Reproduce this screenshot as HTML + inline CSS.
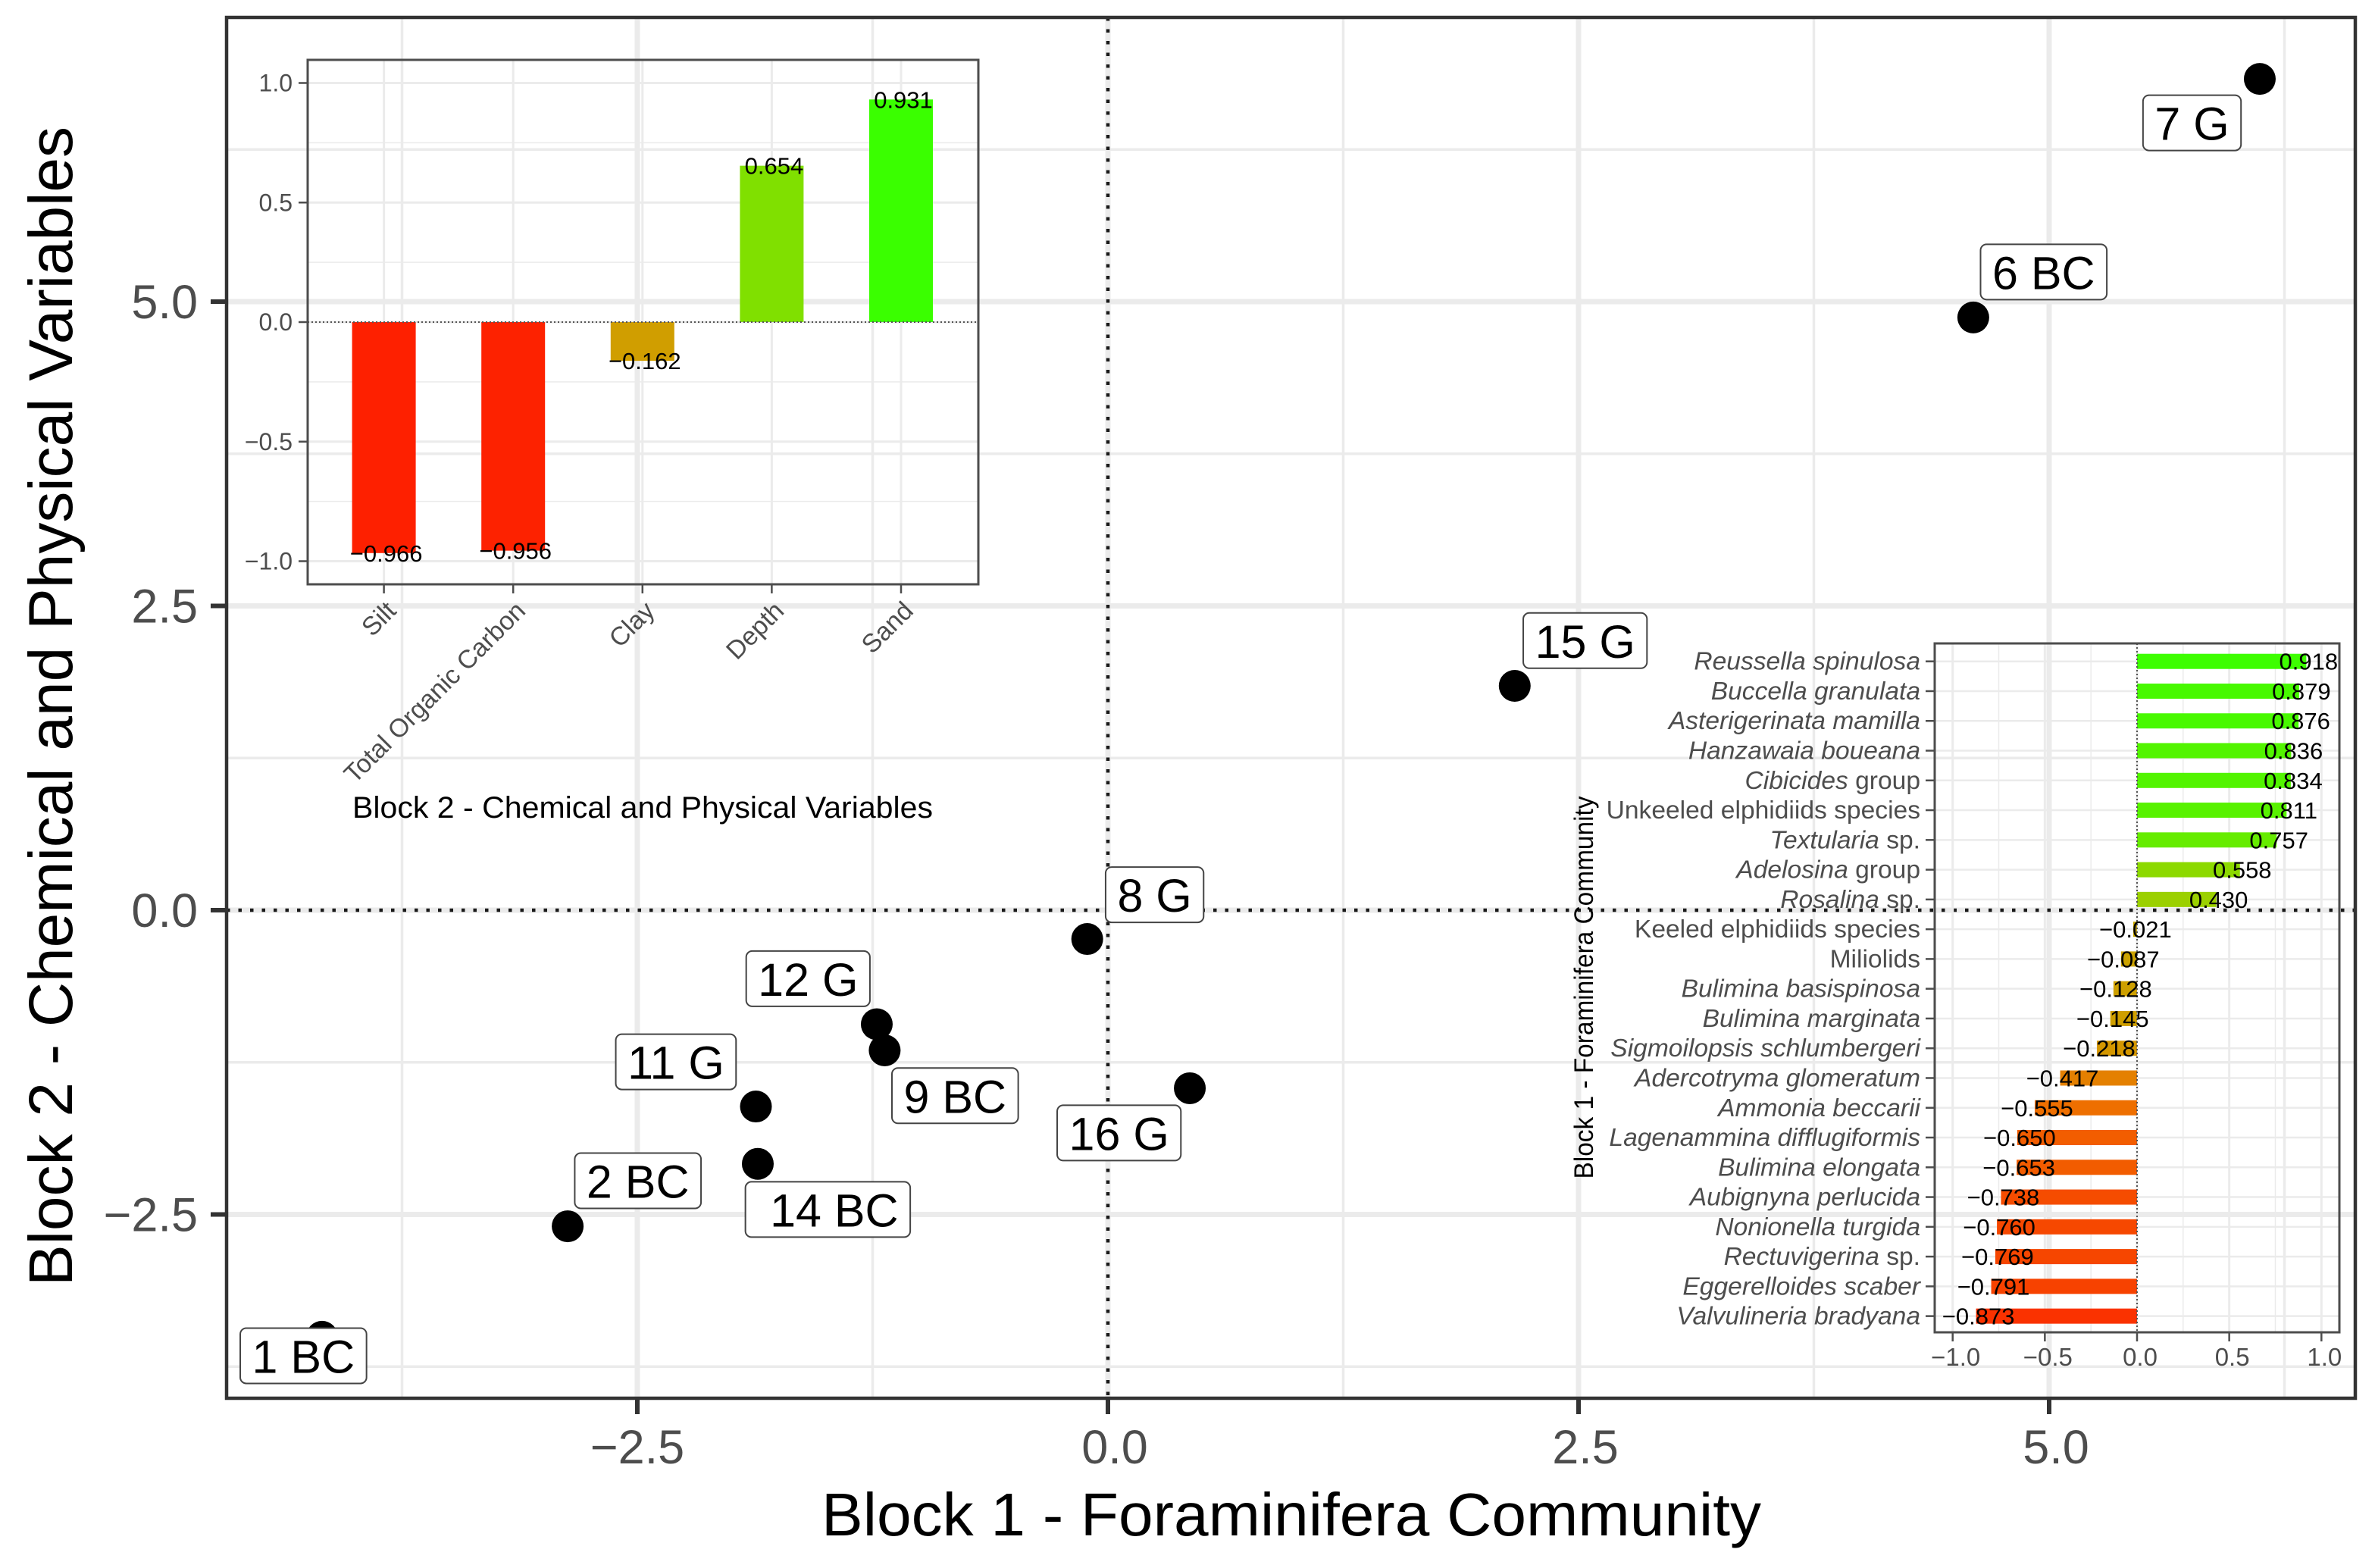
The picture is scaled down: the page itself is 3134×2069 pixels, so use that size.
<!DOCTYPE html>
<html lang="en">
<head>
<meta charset="utf-8">
<title>Block 1 vs Block 2 sPLS score plot</title>
<style>
html,body{margin:0;padding:0;background:#fff;}
svg{display:block;font-family:"Liberation Sans",Arial,sans-serif;}
</style>
</head>
<body>
<svg id="chart" xmlns="http://www.w3.org/2000/svg" width="3134" height="2069" viewBox="0 0 3134 2069">
  <rect x="0" y="0" width="3134" height="2069" fill="#ffffff"/>
  <g id="main-grid"></g>
  <g id="zero-lines"></g>
  <g id="inset-chem"></g>
  <g id="inset-foram"></g>
  <g id="points"></g>
  <g id="labels"></g>
  <g id="main-axes"></g>
  <text x="1704" y="2026" font-size="80" text-anchor="middle" textLength="1240" lengthAdjust="spacingAndGlyphs" fill="#000">Block 1 - Foraminifera Community</text>
  <text transform="translate(95,932) rotate(-90)" font-size="82" text-anchor="middle" textLength="1530" lengthAdjust="spacingAndGlyphs" fill="#000">Block 2 - Chemical and Physical Variables</text>
  <text x="465" y="1079" font-size="40" textLength="766" lengthAdjust="spacingAndGlyphs" fill="#000">Block 2 - Chemical and Physical Variables</text>
  <text transform="translate(2102,1303) rotate(-90)" font-size="35" text-anchor="middle" textLength="505" lengthAdjust="spacingAndGlyphs" fill="#000">Block 1 - Foraminifera Community</text>
</svg>
<script>
/* ---------- main scatter data (data units) ---------- */
const sampleNames = ["7 G", "6 BC", "15 G", "8 G", "16 G", "12 G", "9 BC", "11 G", "\u00a014 BC", "2 BC", "1 BC"];
const block1Scores = [6.119, 4.597, 2.161, -0.11, 0.435, -1.228, -1.186, -1.87, -1.86, -2.87, -4.175];
const block2Scores = [6.83, 4.87, 1.843, -0.237, -1.463, -0.937, -1.152, -1.613, -2.084, -2.597, -3.505];
const labelRepelX = [-0.36, 0.374, 0.374, 0.358, -0.376, -0.365, 0.374, -0.425, 0.372, 0.373, -0.099];
const labelRepelY = [-0.361, 0.374, 0.372, 0.364, -0.367, 0.374, -0.372, 0.367, -0.375, 0.374, -0.156];
const mainMajorTicks = [-2.5, 0, 2.5, 5];
const mainMinorTicks = [-3.75, -1.25, 1.25, 3.75, 6.25];
const mainTickLabels = ["\u22122.5", "0.0", "2.5", "5.0"];

/* ---------- chemical and physical inset data ---------- */
const chemCategories = ["Silt", "Total Organic Carbon", "Clay", "Depth", "Sand"];
const chemValues = [-0.966, -0.956, -0.162, 0.654, 0.931];
const chemTicks = [-1, -0.5, 0, 0.5, 1];
const chemMinorTicks = [-0.75, -0.25, 0.25, 0.75];
const chemTickLabels = ["\u22121.0", "\u22120.5", "0.0", "0.5", "1.0"];

/* ---------- foraminifera inset data ---------- */
const foramItalic = ["Reussella spinulosa", "Buccella granulata", "Asterigerinata mamilla", "Hanzawaia boueana", "Cibicides", "", "Textularia", "Adelosina", "Rosalina", "", "", "Bulimina basispinosa", "Bulimina marginata", "Sigmoilopsis schlumbergeri", "Adercotryma glomeratum", "Ammonia beccarii", "Lagenammina difflugiformis", "Bulimina elongata", "Aubignyna perlucida", "Nonionella turgida", "Rectuvigerina", "Eggerelloides scaber", "Valvulineria bradyana"];
const foramPlain = ["", "", "", "", " group", "Unkeeled elphidiids species", " sp.", " group", " sp.", "Keeled elphidiids species", "Miliolids", "", "", "", "", "", "", "", "", "", " sp.", "", ""];
const foramValues = [0.918, 0.879, 0.876, 0.836, 0.834, 0.811, 0.757, 0.558, 0.430, -0.021, -0.087, -0.128, -0.145, -0.218, -0.417, -0.555, -0.650, -0.653, -0.738, -0.760, -0.769, -0.791, -0.873];
const foramTicks = [-1, -0.5, 0, 0.5, 1];
const foramMinorTicks = [-0.75, -0.25, 0.25, 0.75];
const foramTickLabels = ["\u22121.0", "\u22120.5", "0.0", "0.5", "1.0"];

/* ---------- colour scale: correlation to colour ---------- */
const colorDomain = [-1, -0.55, -0.16, 0, 0.43, 0.654, 0.93, 1];
const colorRed = [255, 238, 208, 200, 155, 128, 58, 50];
const colorGreen = [26, 112, 158, 168, 208, 224, 255, 255];

const NS = "http://www.w3.org/2000/svg";
function mk(tag, attrs, parent) {
  const node = document.createElementNS(NS, tag);
  for (const key in attrs) node.setAttribute(key, attrs[key]);
  parent.appendChild(node);
  return node;
}
function corrColor(v) {
  let i = 0;
  while (i < colorDomain.length - 2 && v > colorDomain[i + 1]) i++;
  const t = (v - colorDomain[i]) / (colorDomain[i + 1] - colorDomain[i]);
  const r = Math.round(colorRed[i] + t * (colorRed[i + 1] - colorRed[i]));
  const g = Math.round(colorGreen[i] + t * (colorGreen[i + 1] - colorGreen[i]));
  return "rgb(" + r + "," + g + ",0)";
}
function fmtValue(v) {
  return (v < 0 ? "\u2212" : "") + Math.abs(v).toFixed(3);
}

/* ---------- main panel scales ---------- */
const panel = { left: 299, right: 3108, top: 23, bottom: 1845 };
const mainX = v => 1462 + v * 248.4;
const mainY = v => 1201 - v * 160.6;

const gridG = document.getElementById("main-grid");
mainMinorTicks.forEach(t => {
  const el = mk("line", { x1: mainX(t), x2: mainX(t), y1: panel.top, y2: panel.bottom, stroke: "#ebebeb", "stroke-width": 3.5 }, gridG);
  
  
  const el2 = mk("line", { x1: panel.left, x2: panel.right, y1: mainY(t), y2: mainY(t), stroke: "#ebebeb", "stroke-width": 3.5 }, gridG);
  
  
});
mainMajorTicks.forEach(t => {
  const el = mk("line", { x1: mainX(t), x2: mainX(t), y1: panel.top, y2: panel.bottom, stroke: "#ebebeb", "stroke-width": 7 }, gridG);
  
  
  const el2 = mk("line", { x1: panel.left, x2: panel.right, y1: mainY(t), y2: mainY(t), stroke: "#ebebeb", "stroke-width": 7 }, gridG);
  
  
});

const zeroG = document.getElementById("zero-lines");
const vZero = mk("line", { x1: mainX(0), x2: mainX(0), y1: panel.top, y2: panel.bottom, stroke: "#1a1a1a", "stroke-width": 4.5, "stroke-dasharray": "4.5 11" }, zeroG);


const hZero = mk("line", { x1: panel.left, x2: panel.right, y1: mainY(0), y2: mainY(0), stroke: "#1a1a1a", "stroke-width": 4.5, "stroke-dasharray": "4.5 11" }, zeroG);



/* ---------- chemical inset ---------- */
const chemG = document.getElementById("inset-chem");
const chemP = { left: 406, right: 1291, top: 79, bottom: 771 };
const chemX = i => 506.6 + i * 170.6;
const chemY = v => 425 - v * 315.5;
chemMinorTicks.forEach(t => {
  const el = mk("line", { x1: chemP.left, x2: chemP.right, y1: chemY(t), y2: chemY(t), stroke: "#ebebeb", "stroke-width": 1.5 }, chemG);
  
  
});
chemTicks.forEach((t, i) => {
  const el = mk("line", { x1: chemP.left, x2: chemP.right, y1: chemY(t), y2: chemY(t), stroke: "#ebebeb", "stroke-width": 3 }, chemG);
  
  
  const tick = mk("line", { x1: chemP.left - 12, x2: chemP.left, y1: chemY(t), y2: chemY(t), stroke: "#4d4d4d", "stroke-width": 2.5 }, chemG);
  
  
  const lab = mk("text", { x: chemP.left - 20, y: chemY(t) + 11, "font-size": 32, "text-anchor": "end", fill: "#4d4d4d" }, chemG);
  
  
  lab.textContent = chemTickLabels[i];
});
chemCategories.forEach((c, i) => {
  const grid = mk("line", { x1: chemX(i), x2: chemX(i), y1: chemP.top, y2: chemP.bottom, stroke: "#ebebeb", "stroke-width": 3 }, chemG);
  
  
});
chemCategories.forEach((c, i) => {
  const v = chemValues[i];
  const bar = mk("rect", { x: chemX(i) - 42, width: 84, y: Math.min(chemY(v), chemY(0)), height: Math.abs(chemY(v) - chemY(0)), fill: corrColor(v) }, chemG);
  
  
});
const chemZero = mk("line", { x1: chemP.left, x2: chemP.right, y1: chemY(0), y2: chemY(0), stroke: "#555", "stroke-width": 2, "stroke-dasharray": "2 3" }, chemG);


chemCategories.forEach((c, i) => {
  const v = chemValues[i];
  const val = mk("text", { x: chemX(i) + 3, y: chemY(v) + 11, "font-size": 31, "text-anchor": "middle", fill: "#000" }, chemG);
  
  
  val.textContent = fmtValue(v);
  const tick = mk("line", { x1: chemX(i), x2: chemX(i), y1: chemP.bottom, y2: chemP.bottom + 12, stroke: "#4d4d4d", "stroke-width": 2.5 }, chemG);
  
  
  const lab = mk("text", { transform: "translate(" + (chemX(i) + 18) + ",808) rotate(-45)", "font-size": 34, "text-anchor": "end", fill: "#4d4d4d" }, chemG);
  
  
  lab.textContent = c;
});
const chemBorder = mk("rect", { x: chemP.left, y: chemP.top, width: chemP.right - chemP.left, height: chemP.bottom - chemP.top, fill: "none", stroke: "#4d4d4d", "stroke-width": 3 }, chemG);



/* ---------- foraminifera inset ---------- */
const foramG = document.getElementById("inset-foram");
const foramP = { left: 2553, right: 3087, top: 849, bottom: 1758 };
const foramX = v => 2820 + v * 243.3;
const foramY = i => 872.7 + i * 39.27;
foramMinorTicks.forEach(t => {
  const el = mk("line", { x1: foramX(t), x2: foramX(t), y1: foramP.top, y2: foramP.bottom, stroke: "#ebebeb", "stroke-width": 1.5 }, foramG);
  
  
});
foramValues.forEach((v, i) => {
  const grid = mk("line", { x1: foramP.left, x2: foramP.right, y1: foramY(i), y2: foramY(i), stroke: "#ebebeb", "stroke-width": 2.5 }, foramG);
  
  
});
foramTicks.forEach((t, i) => {
  const el = mk("line", { x1: foramX(t), x2: foramX(t), y1: foramP.top, y2: foramP.bottom, stroke: "#ebebeb", "stroke-width": 3 }, foramG);
  
  
  const tick = mk("line", { x1: foramX(t), x2: foramX(t), y1: foramP.bottom, y2: foramP.bottom + 12, stroke: "#4d4d4d", "stroke-width": 2.5 }, foramG);
  
  
  const lab = mk("text", { x: foramX(t) + 4, y: 1802, "font-size": 33, "text-anchor": "middle", fill: "#4d4d4d" }, foramG);
  
  
  lab.textContent = foramTickLabels[i];
});
foramValues.forEach((v, i) => {
  const bar = mk("rect", { x: Math.min(foramX(v), foramX(0)), width: Math.abs(foramX(v) - foramX(0)), y: foramY(i) - 10, height: 20, fill: corrColor(v) }, foramG);
  
  
});
const foramZero = mk("line", { x1: foramX(0), x2: foramX(0), y1: foramP.top, y2: foramP.bottom, stroke: "#555", "stroke-width": 2, "stroke-dasharray": "2 3" }, foramG);


foramValues.forEach((v, i) => {
  const tick = mk("line", { x1: foramP.left - 12, x2: foramP.left, y1: foramY(i), y2: foramY(i), stroke: "#4d4d4d", "stroke-width": 2.5 }, foramG);
  
  
  const lab = mk("text", { x: foramP.left - 19, y: foramY(i) + 11, "font-size": 33.6, "text-anchor": "end", fill: "#4d4d4d" }, foramG);
  
  
  if (foramItalic[i]) {
    const it = mk("tspan", { "font-style": "italic" }, lab);
    it.textContent = foramItalic[i];
  }
  if (foramPlain[i]) {
    const pl = mk("tspan", { "xml:space": "preserve" }, lab);
    pl.textContent = foramPlain[i].replace(/^ /, "\u00a0");
  }
  const val = mk("text", { x: foramX(v) + 3, y: foramY(i) + 11, "font-size": 31, "text-anchor": "middle", fill: "#000" }, foramG);
  
  
  val.textContent = fmtValue(v);
});
const foramBorder = mk("rect", { x: foramP.left, y: foramP.top, width: foramP.right - foramP.left, height: foramP.bottom - foramP.top, fill: "none", stroke: "#4d4d4d", "stroke-width": 3 }, foramG);



/* ---------- sample points and labels ---------- */
const pointsG = document.getElementById("points");
const labelsG = document.getElementById("labels");
sampleNames.forEach((name, i) => {
  const px = mainX(block1Scores[i]);
  const py = mainY(block2Scores[i]);
  const dot = mk("circle", { cx: px, cy: py, r: 21, fill: "#000" }, pointsG);
  
  
  const cx = mainX(block1Scores[i] + labelRepelX[i]);
  const cy = mainY(block2Scores[i] + labelRepelY[i]);
  const box = mk("rect", { y: cy - 36.5, height: 73, rx: 8, ry: 8, fill: "#fff", stroke: "#444", "stroke-width": 2 }, labelsG);
  
  
  const txt = mk("text", { y: cy + 22.5, "font-size": 61, fill: "#000" }, labelsG);
  
  
  txt.textContent = name;
  const w = txt.getComputedTextLength();
  txt.setAttribute("x", cx - w / 2);
  box.setAttribute("x", cx - w / 2 - 15.5);
  box.setAttribute("width", w + 31);
});

/* ---------- main axes and border ---------- */
const axesG = document.getElementById("main-axes");
mainMajorTicks.forEach((t, i) => {
  const xt = mk("line", { x1: mainX(t), x2: mainX(t), y1: panel.bottom, y2: panel.bottom + 21, stroke: "#333", "stroke-width": 6 }, axesG);
  
  
  const xl = mk("text", { x: mainX(t) + (t < 0 ? 0 : 9), y: 1931, "font-size": 63, "text-anchor": "middle", fill: "#4d4d4d" }, axesG);
  
  
  xl.textContent = mainTickLabels[i];
  const yt = mk("line", { x1: panel.left - 21, x2: panel.left, y1: mainY(t), y2: mainY(t), stroke: "#333", "stroke-width": 6 }, axesG);
  
  
  const yl = mk("text", { x: 261, y: mainY(t) + 22, "font-size": 63, "text-anchor": "end", fill: "#4d4d4d" }, axesG);
  
  
  yl.textContent = mainTickLabels[i];
});
const border = mk("rect", { x: panel.left, y: panel.top, width: panel.right - panel.left, height: panel.bottom - panel.top, fill: "none", stroke: "#333", "stroke-width": 4.5 }, axesG);


</script>
</body>
</html>
